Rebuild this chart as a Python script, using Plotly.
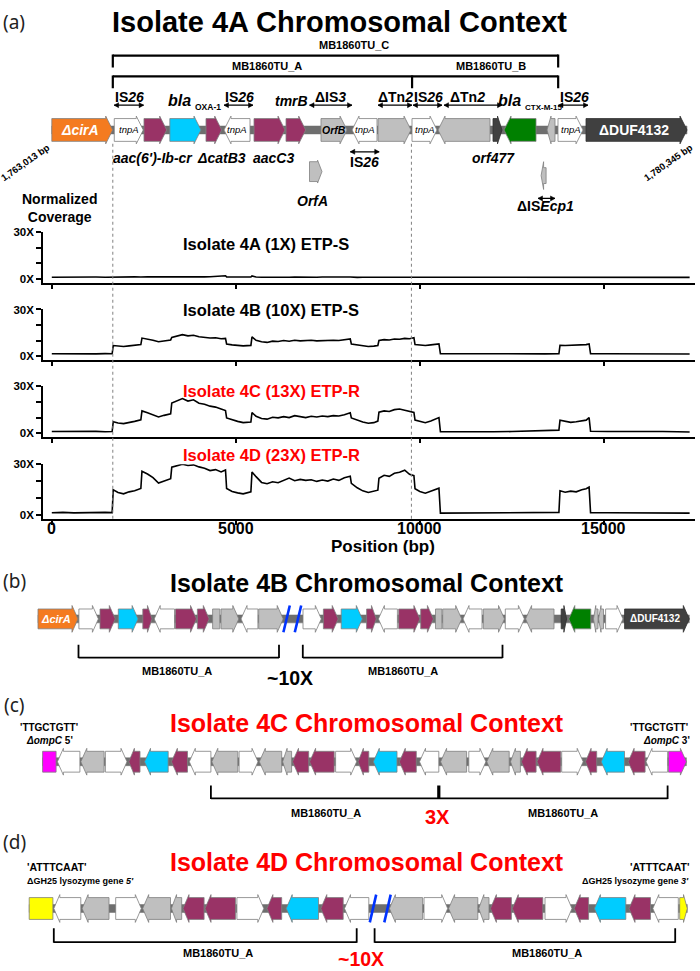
import plotly.graph_objects as go

W, H = 700, 971
FONT = "Liberation Sans"

# ---------------- coverage data (panel a) ----------------
pos_bp = [0, 300, 600, 900, 1200, 1450, 1640,
          1670, 1800, 1950, 2100, 2250, 2420,
          2450, 2600, 2750, 2900, 3050, 3230,
          3260, 3400, 3550, 3700, 3850, 4000, 4150, 4300, 4450, 4600, 4720,
          4750, 4900, 5050, 5200, 5410,
          5440, 5550, 5700, 5850, 6000, 6150, 6300, 6450, 6600, 6750, 6900, 7050, 7200, 7350, 7500, 7650, 7800, 7950, 8110,
          8140, 8300, 8450, 8600, 8750, 8860,
          8890, 9030, 9170, 9310, 9450, 9590, 9720, 9840,
          9870, 10000, 10150, 10300, 10420, 10520,
          10560, 11000, 11500, 12000, 12500, 13000, 13400, 13780,
          13810, 13950, 14100, 14250, 14400, 14520, 14600,
          14640, 15100, 15600, 16100, 16600, 17000, 17332]

cov_4A = [1.0, 1.1, 1.0, 1.2, 1.1, 1.0, 1.1,
          1.2, 1.1, 1.2, 1.1, 1.2, 1.1,
          1.2, 1.3, 1.2, 1.1, 1.2, 1.3,
          1.3, 1.2, 1.2, 1.1, 1.2, 1.3, 1.2, 1.3, 1.4, 1.6, 1.9,
          1.2, 1.1, 1.0, 1.0, 1.1,
          1.8, 1.1, 1.0, 0.9, 1.0, 1.1, 1.0, 1.0, 1.1, 1.0, 1.0, 1.1, 1.0, 1.1, 1.0, 1.1, 1.2, 1.1, 1.1,
          1.0, 0.9, 1.0, 1.0, 1.1, 1.0,
          1.1, 1.1, 1.0, 1.1, 1.2, 1.1, 1.2, 1.1,
          1.2, 1.1, 1.0, 1.0, 1.1, 1.0,
          1.1, 1.0, 1.0, 0.9, 1.0, 1.1, 1.0, 1.1,
          1.1, 1.0, 1.2, 1.3, 1.2, 1.2, 1.1,
          1.2, 1.0, 1.1, 1.0, 0.9, 1.0, 0.9]

cov_4B = [1.5, 1.4, 1.6, 1.5, 1.4, 1.6, 1.5,
          6.8, 6.4, 6.2, 6.6, 7.0, 7.4,
          11.6, 11.0, 10.2, 9.2, 9.8, 10.4,
          12.0, 12.8, 13.8, 13.0, 13.4, 12.4, 12.0, 11.6, 11.8, 11.2, 11.4,
          7.8, 7.2, 6.8, 6.6, 6.9,
          12.4, 10.2, 9.2, 8.8, 9.6, 9.4, 10.0, 9.6, 10.2, 9.8, 10.0, 10.2, 9.8, 10.0, 9.8, 10.2, 10.0, 10.4, 11.0,
          7.8, 7.2, 6.6, 6.2, 6.4, 6.8,
          10.0, 10.6, 10.4, 11.0, 10.8, 11.4, 11.2, 11.8,
          7.4, 7.0, 6.8, 7.2, 7.4, 7.8,
          1.6, 1.5, 1.4, 1.5, 1.6, 1.5, 1.4, 1.5,
          7.0, 6.8, 7.0, 7.2, 7.0, 7.4, 7.8,
          1.6, 1.5, 1.4, 1.5, 1.4, 1.5, 1.3]

cov_4C = [1.2, 1.3, 1.1, 1.2, 1.3, 1.1, 1.2,
          7.4, 6.6, 6.2, 6.8, 7.6, 8.6,
          14.2, 13.0, 11.8, 10.4, 11.4, 12.4,
          19.2, 20.6, 22.0, 20.4, 21.2, 19.0, 18.4, 17.2, 16.6, 15.4, 14.4,
          9.8, 8.6, 7.6, 6.8, 7.2,
          13.2, 10.8, 9.4, 9.0, 10.2, 9.8, 10.6, 10.0, 11.2, 10.4, 10.0, 10.8, 10.4, 11.0, 10.6, 11.2, 11.0, 11.8, 13.0,
          9.8, 8.4, 7.2, 6.4, 6.8, 7.8,
          13.4, 14.2, 13.8, 15.0, 15.4, 14.6, 14.0, 13.2,
          8.4, 7.6, 6.8, 7.8, 8.8, 10.0,
          1.1, 1.0, 0.9, 1.1, 1.2, 1.4, 1.7, 2.1,
          8.4, 7.6, 7.0, 7.4, 7.8, 8.4, 10.0,
          1.4, 1.2, 1.3, 1.1, 1.2, 1.1, 0.9]

cov_4D = [1.2, 1.4, 1.1, 1.3, 1.2, 1.4, 1.3,
          14.8, 13.2, 12.4, 13.6, 14.2, 15.6,
          25.8, 24.2, 22.0, 18.8, 20.2, 21.4,
          28.2, 29.0, 30.0, 29.2, 29.6, 28.4, 27.6, 26.2, 26.8, 25.4, 26.6,
          15.6, 13.8, 13.0, 12.4, 13.6,
          25.4, 22.6, 19.2, 18.4, 19.6, 19.0, 20.6, 21.8, 20.2, 21.0, 20.4, 20.8, 19.8, 20.6, 20.0, 21.2, 20.4, 22.0, 22.8,
          18.6, 16.0, 14.2, 13.2, 13.8, 14.6,
          21.6, 23.4, 22.8, 24.6, 25.2, 26.4, 24.0, 23.2,
          15.4, 13.8, 12.8, 14.2, 15.2, 15.8,
          1.0, 1.1, 0.9, 1.0, 1.1, 1.2, 1.3, 1.4,
          14.2, 13.4, 14.0, 13.6, 14.8, 15.4, 16.4,
          1.3, 1.2, 1.1, 1.3, 1.2, 1.1, 1.0]

cov_titles = ["Isolate 4A (1X) ETP-S", "Isolate 4B (10X) ETP-S",
              "Isolate 4C (13X) ETP-R", "Isolate 4D (23X) ETP-R"]
cov_title_colors = ["black", "black", "#FF0000", "#FF0000"]
x_tick_vals = [0, 5000, 10000, 15000]
x_tick_text = ["0", "5000", "10000", "15000"]
y_tick_vals = [0, 10, 20, 30]
y_tick_text = ["0X", "", "", "30X"]
dotted_bp = [1658, 9772]

# ---------------- panel a gene map (bp) ----------------
A_start = [0, 1698, 2505, 3207, 4190, 4679, 5495, 6364, 7315, 8158, 8864, 9788, 10495, 11989, 12288, 13457, 13755, 14516]
A_end = [1655, 2486, 3122, 4054, 4617, 5386, 6337, 6899, 8022, 8837, 9761, 10467, 11908, 12234, 13158, 13674, 14435, 17261]
A_strand = [1, 1, 1, 1, 1, -1, 1, 1, 1, -1, 1, 1, -1, 1, -1, -1, 1, 1]
A_kind = ["orange", "white", "purple", "cyan", "purple", "white", "purple", "purple", "gray",
          "white", "gray", "white", "gray", "dark", "green", "gray", "white", "dark"]
A_inner = ["<b><i>ΔcirA</i></b>", "<i>tnpA</i>", "", "", "", "<i>tnpA</i>", "", "", "<b><i>OrfB</i></b>",
           "<i>tnpA</i>", "", "<i>tnpA</i>", "", "", "", "", "<i>tnpA</i>", "<b>ΔDUF4132</b>"]
A_inner_color = ["white", "black", "", "", "", "black", "", "", "black",
                 "black", "", "black", "", "", "", "", "black", "white"]
A_inner_size = [14, 9.5, 0, 0, 0, 9.5, 0, 0, 10.5, 9.5, 0, 9.5, 0, 0, 0, 0, 9.5, 14]
A_sub_start = [7003, 13296]
A_sub_end = [7342, 13432]
A_sub_strand = [1, -1]
A_span_start = [1693, 4679, 7003, 8864, 9815, 10658, 13769]
A_span_end = [2496, 5467, 8158, 9788, 10603, 12234, 14571]
A_span_label = ["IS<i>26</i>", "IS<i>26</i>", "ΔIS<i>3</i>", "ΔTn<i>2</i>", "IS<i>26</i>", "ΔTn<i>2</i>", "IS<i>26</i>"]
A_brk_C = [1658, 13760]
A_brk_AB = [1658, 9790, 13760]

# ---------------- panel b (map units) ----------------
B_start = [38, 78.9, 100, 118.3, 142.8, 154.2, 175.4, 197.4, 212.6, 221, 241, 258.7,
           303, 323.4, 341.2, 366.6, 378.4, 398.7, 420.7, 435.5, 442.7, 463, 483.3,
           505.3, 525.6, 561.2, 568.8, 593.5, 598.5, 605.6, 624.6]
B_end = [78, 98.4, 115.3, 138.1, 152.1, 174.5, 196.5, 209.2, 219.8, 238.8, 257.9, 283.2,
         321.3, 338.2, 362.3, 376.3, 397.4, 419.9, 433.4, 441.9, 461.7, 482, 504.5,
         524.4, 554, 566.6, 590.8, 598, 603.5, 623, 689.3]
B_strand = [1, 1, 1, 1, 1, -1, 1, 1, 0, 1, -1, 1,
            1, 1, 1, 1, -1, 1, 1, 0, 1, -1, 1,
            1, -1, 1, -1, -1, -1, 1, 1]
B_kind = ["orange", "white", "purple", "cyan", "purple", "white", "purple", "purple", "gray", "gray", "white", "gray",
          "white", "purple", "cyan", "purple", "white", "purple", "purple", "gray", "gray", "white", "gray",
          "white", "gray", "dark", "green", "gray", "gray", "white", "dark"]
B_breaks = [286.6, 298.0]
B_brk_start = [78.5, 302.8]
B_brk_end = [279, 502.5]

# ---------------- panel c ----------------
C_start = [42.6, 57.4, 80.8, 105.4, 128.8, 144.5, 171.4, 189.3, 211.8, 239.1, 259.3, 282.6, 292.5,
           309.6, 335.6, 358.0, 373.3, 399.3, 419.5, 440.6, 468.8, 486.8, 510.5, 521.3, 537.0,
           561.7, 585.5, 601.2, 628.1, 646.0, 668.5]
C_end = [56.1, 79.9, 104.1, 127.0, 140.0, 168.2, 187.5, 210.9, 237.8, 258.0, 281.7, 291.6, 308.7,
         334.2, 356.7, 368.8, 397.0, 416.3, 438.8, 466.6, 485.9, 509.2, 520.4, 536.1, 560.8,
         583.2, 596.7, 624.5, 645.1, 667.6, 686.4]
C_strand = [0, -1, -1, 1, -1, -1, -1, -1, -1, 1, -1, -1, -1,
            -1, 1, -1, -1, -1, -1, -1, 1, -1, -1, -1, -1,
            1, -1, -1, -1, -1, 1]
C_kind = ["magenta", "white", "gray", "white", "purple", "cyan", "purple", "white", "gray", "white", "gray", "gray", "purple",
          "purple", "white", "purple", "cyan", "purple", "white", "gray", "white", "gray", "gray", "purple", "purple",
          "white", "purple", "cyan", "purple", "white", "magenta"]
C_brk_ticks = [210.9, 438.8, 667.6]

# ---------------- panel d ----------------
D_start = [29.2, 53.8, 82.1, 115.7, 142.7, 171.4, 183.0, 205.0, 236.9, 266.9, 286.2, 320.8, 344.5,
           389.4, 424.0, 448.6, 478.7, 490.4, 512.3, 545.0, 574.2, 594.4, 629.0, 652.8, 679.7]
D_end = [52.9, 80.8, 109.0, 141.3, 170.5, 181.7, 204.1, 235.5, 263.8, 281.7, 318.5, 343.2, 368.8,
         422.6, 447.7, 477.8, 489.0, 511.4, 542.8, 572.0, 588.6, 625.8, 650.5, 678.3, 687.3]
D_strand = [0, -1, -1, 1, -1, -1, -1, -1, 1, -1, -1, -1, -1,
            -1, 1, -1, -1, -1, -1, 1, -1, -1, -1, -1, 1]
D_kind = ["yellow", "white", "gray", "white", "gray", "gray", "purple", "purple", "white", "purple", "cyan", "purple", "white",
          "gray", "white", "gray", "gray", "purple", "purple", "white", "purple", "cyan", "purple", "white", "yellow"]
D_breaks = [373.0, 387.5]
D_brk_start = [53.8, 374.6]
D_brk_end = [356.7, 675.2]

COL = {"orange": "#F47B20", "white": "#FFFFFF", "purple": "#993366", "cyan": "#00CCFF",
       "gray": "#BFBFBF", "dark": "#404040", "green": "#008000", "magenta": "#FF00FF",
       "yellow": "#FFFF00"}
EDGE = "#7F7F7F"
BACKBONE = "#6E6E6E"

X_RANGE = [-239, 17478]
X_DOM = [43 / W, 695 / W]
BP_PER_PX = (X_RANGE[1] - X_RANGE[0]) / (695 - 43)


def fx(px):
    return px / W


def fy(py):
    return 1 - py / H


def arrow_xy(s, e, strand, yc, hb, hh, hl):
    h = min(hl, 0.5 * (e - s))
    if strand == 1:
        xs = [s, e - h, e - h, e, e - h, e - h, s, s]
    elif strand == -1:
        xs = [e, s + h, s + h, s, s + h, s + h, e, e]
    else:
        return [s, e, e, s, s], [yc - hb, yc - hb, yc + hb, yc + hb, yc - hb]
    ys = [yc - hb, yc - hb, yc - hh, yc, yc + hh, yc + hb, yc + hb, yc - hb]
    return xs, ys


fig = go.Figure()
lay = {}
shapes = []
ann = []


def text(t, px, py, size, color="black", xanchor="center", angle=0, family=FONT):
    ann.append(dict(text=t, x=fx(px), y=fy(py), xref="paper", yref="paper", showarrow=False,
                    xanchor=xanchor, yanchor="middle", textangle=angle,
                    font=dict(family=family, size=size, color=color)))


def track_axis(n, center, top, bottom, xrange, xdom):
    lay["xaxis%d" % n] = dict(domain=xdom, range=xrange, visible=False, anchor="y%d" % n)
    lay["yaxis%d" % n] = dict(domain=[fy(bottom), fy(top)],
                              range=[(center - bottom) / 10.0, (center - top) / 10.0],
                              visible=False, anchor="x%d" % n)


def draw_genes(n, starts, ends, strands, kinds, hb, hh, hl, yc=0.0):
    for s, e, st, k in zip(starts, ends, strands, kinds):
        xs, ys = arrow_xy(s, e, st, yc, hb, hh, hl)
        edge = "#303030" if k == "dark" else EDGE
        fig.add_trace(go.Scatter(x=xs, y=ys, mode="lines", fill="toself", fillcolor=COL[k],
                                 line=dict(color=edge, width=0.8), hoverinfo="skip",
                                 xaxis="x%d" % n, yaxis="y%d" % n))


def backbone(n, s, e, half=0.4):
    fig.add_trace(go.Scatter(x=[s, e, e, s, s], y=[-half, -half, half, half, -half], mode="lines",
                             fill="toself", fillcolor=BACKBONE, line=dict(color=BACKBONE, width=0.5),
                             hoverinfo="skip", xaxis="x%d" % n, yaxis="y%d" % n))


def breaks(n, xs_list, hh):
    for xb in xs_list:
        fig.add_trace(go.Scatter(x=[xb - 3.2, xb + 3.2], y=[-hh, hh], mode="lines",
                                 line=dict(color="#0033FF", width=2.6), hoverinfo="skip",
                                 xaxis="x%d" % n, yaxis="y%d" % n))


def hline(n, x0, x1, y, width=2.0):
    shapes.append(dict(type="line", xref="x%d" % n, yref="y%d" % n, x0=x0, x1=x1, y0=y, y1=y,
                       line=dict(color="black", width=width)))


def vline(n, x, y0, y1, width=2.0):
    shapes.append(dict(type="line", xref="x%d" % n, yref="y%d" % n, x0=x, x1=x, y0=y0, y1=y1,
                       line=dict(color="black", width=width)))


def dbl_arrow(n, s, e, y):
    hl = 4.5 * BP_PER_PX
    hw = 0.25
    shapes.append(dict(type="line", xref="x%d" % n, yref="y%d" % n, x0=s + 1, x1=e - 1, y0=y, y1=y,
                       line=dict(color="black", width=1.2)))
    for tip, back in ((s, s + hl), (e, e - hl)):
        shapes.append(dict(type="path", xref="x%d" % n, yref="y%d" % n,
                           path="M %f,%f L %f,%f L %f,%f Z" % (tip, y, back, y + hw, back, y - hw),
                           fillcolor="black", line=dict(color="black", width=0.5)))


# ---------------- coverage subplots ----------------
sub_top = [228, 306, 383, 462]
sub_zero = [275, 353, 431, 513]
sub_line = [279, 357, 435, 517]
sub_title_py = [240, 307, 388, 453]
cov_series = [cov_4A, cov_4B, cov_4C, cov_4D]

for k in range(4):
    sfx = "" if k == 0 else str(k + 1)
    ppu = (sub_zero[k] - sub_top[k]) / 30.0
    ymin = -(sub_line[k] - sub_zero[k]) / ppu
    fig.add_trace(go.Scatter(x=pos_bp, y=cov_series[k], mode="lines",
                             line=dict(color="black", width=1.6), hoverinfo="skip",
                             xaxis="x" + sfx, yaxis="y" + sfx))
    lay["xaxis" + sfx] = dict(domain=X_DOM, range=X_RANGE, anchor="y" + sfx, showline=True,
                              linecolor="black", linewidth=1.6, ticks="outside", ticklen=4,
                              tickwidth=1.5, tickcolor="black", tickvals=x_tick_vals,
                              showticklabels=False, showgrid=False, zeroline=False)
    lay["yaxis" + sfx] = dict(domain=[fy(sub_line[k]), fy(sub_top[k])], range=[ymin, 30],
                              anchor="x" + sfx, showline=True, linecolor="black", linewidth=1.6,
                              ticks="outside", ticklen=5, tickwidth=1.5, tickcolor="black",
                              tickvals=y_tick_vals,
                              ticktext=["<b>%s</b>" % t if t else "" for t in y_tick_text],
                              showgrid=False, zeroline=False,
                              tickfont=dict(family=FONT, size=11.5, color="black"))
    text("<b>%s</b>" % cov_titles[k], 181, sub_title_py[k], 16.5, cov_title_colors[k], xanchor="left")

for v, t in zip(x_tick_vals, x_tick_text):
    ann.append(dict(text="<b>%s</b>" % t, x=v, y=fy(527), xref="x4", yref="paper", showarrow=False,
                    xanchor="center", yanchor="middle", font=dict(family=FONT, size=16, color="black")))

for xb in dotted_bp:
    shapes.append(dict(type="line", xref="x", yref="paper", x0=xb, x1=xb, y0=fy(517), y1=fy(138),
                       line=dict(color="#808080", width=1, dash="dot")))

text("<b>Normalized<br>Coverage</b>", 59, 204, 14)
text("<b>Position (bp)</b>", 383, 545, 17)

# ---------------- panel a gene map ----------------
A_C = 125
track_axis(5, A_C, 30, 210, X_RANGE, X_DOM)
backbone(5, A_start[0], A_end[-1])
draw_genes(5, A_start, A_end, A_strand, A_kind, 1.15, 1.4, 190)
for i in range(2):
    xs, ys = arrow_xy(A_sub_start[i], A_sub_end[i], A_sub_strand[i],
                      -4.2 if i == 0 else -4.6, 1.0 if i == 0 else 0.8, 1.15 if i == 0 else 1.4,
                      120 if i == 0 else 90)
    fig.add_trace(go.Scatter(x=xs, y=ys, mode="lines", fill="toself", fillcolor=COL["gray"],
                             line=dict(color=EDGE, width=0.8), hoverinfo="skip",
                             xaxis="x5", yaxis="y5"))
for s, e, t, c, sz in zip(A_start, A_end, A_inner, A_inner_color, A_inner_size):
    if t:
        ann.append(dict(text=t, x=(s + e) / 2 - (60 if sz > 12 else 0), y=0, xref="x5", yref="y5",
                        showarrow=False, font=dict(family=FONT, size=sz, color=c)))

hline(5, A_brk_C[0], A_brk_C[1], 7.5, 2.2)
for xb in A_brk_C:
    vline(5, xb, 7.6, 6.3, 2.2)
hline(5, A_brk_AB[0], A_brk_AB[-1], 5.4, 2.2)
for xb in A_brk_AB:
    vline(5, xb, 5.5, 4.2, 2.2)
text("<b>MB1860TU_C</b>", 354, 39, 11)
text("<b>MB1860TU_A</b>", 267, 60, 11)
text("<b>MB1860TU_B</b>", 491, 60, 11)

span_label_px = [129, 239, 330, 395, 428, 467, 574]
for s, e, lab, lpx in zip(A_span_start, A_span_end, A_span_label, span_label_px):
    dbl_arrow(5, s, e, 2.5)
    text("<b>%s</b>" % lab, lpx, 92, 14)
text("<b><i>bla</i></b>", 193, 95, 16, xanchor="right")
text("<b>OXA-1</b>", 193, 102, 8.5, xanchor="left")
text("<b><i>tmrB</i></b>", 291, 96, 14)
text("<b><i>bla</i></b>", 523, 95, 16, xanchor="right")
text("<b>CTX-M-15</b>", 523, 102, 8, xanchor="left")

text("<b><i>aac(6')-Ib-cr</i></b>", 153, 153, 14)
text("<b><i>ΔcatB3</i></b>", 221, 153, 14)
text("<b><i>aacC3</i></b>", 273, 153, 14)
dbl_arrow(5, 8110, 8897, -2.2)
text("<b>IS<i>26</i></b>", 364, 157, 14)
text("<b><i>orf477</i></b>", 493, 153, 14)
text("<b><i>OrfA</i></b>", 312, 197, 14)
dbl_arrow(5, 13212, 13674, -6.9)
text("<b>ΔIS<i>Ecp1</i></b>", 545, 202, 14)
text("<b>1,763,013 bp</b>", 25, 158, 9.5, angle=-35)
text("<b>1,780,345 bp</b>", 668, 158, 9.5, angle=-35)

# ---------------- panel b ----------------
B_C = 618
track_axis(6, B_C, 598, 665, [0, W], [0, 1])
backbone(6, B_start[0], B_end[-1])
draw_genes(6, B_start, B_end, B_strand, B_kind, 1.0, 1.35, 6)
breaks(6, B_breaks, 1.35)
ann.append(dict(text="<b><i>ΔcirA</i></b>", x=(B_start[0] + B_end[0]) / 2 - 2, y=0, xref="x6", yref="y6",
                showarrow=False, font=dict(family=FONT, size=11, color="white")))
ann.append(dict(text="<b>ΔDUF4132</b>", x=(B_start[-1] + B_end[-1]) / 2 - 2, y=0, xref="x6", yref="y6",
                showarrow=False, font=dict(family=FONT, size=10, color="white")))
for s, e in zip(B_brk_start, B_brk_end):
    hline(6, s, e, -3.9, 1.8)
    vline(6, s, -3.95, -2.6, 1.8)
    vline(6, e, -3.95, -2.6, 1.8)
text("<b>MB1860TU_A</b>", 177, 671, 11)
text("<b>MB1860TU_A</b>", 403, 671, 11)
text("<b>~10X</b>", 290, 678, 19.5)

# ---------------- panel c ----------------
C_C = 762
track_axis(7, C_C, 745, 805, [0, W], [0, 1])
backbone(7, C_start[0], C_end[-1])
draw_genes(7, C_start, C_end, C_strand, C_kind, 1.05, 1.35, 6)
hline(7, C_brk_ticks[0], C_brk_ticks[-1], -3.7, 1.8)
for i, xb in enumerate(C_brk_ticks):
    vline(7, xb, -3.75, -2.4, 3.2 if i == 1 else 1.8)
text("<b>MB1860TU_A</b>", 326, 814, 11)
text("<b>MB1860TU_A</b>", 563, 814, 11)
text("<b>3X</b>", 437, 818, 20, "#FF0000")
text("<b>'TTGCTGTT'</b>", 49, 727, 10)
text("<b><i>ΔompC</i> 5'</b>", 49, 741, 10)
text("<b>'TTGCTGTT'</b>", 659, 727, 10)
text("<b><i>ΔompC</i> 3'</b>", 666, 741, 10)

# ---------------- panel d ----------------
D_C = 910
track_axis(8, D_C, 892, 950, [0, W], [0, 1])
backbone(8, D_start[0], D_end[-1])
draw_genes(8, D_start, D_end, D_strand, D_kind, 1.1, 1.4, 6)
breaks(8, D_breaks, 1.4)
for s, e in zip(D_brk_start, D_brk_end):
    hline(8, s, e, -3.4, 1.8)
    vline(8, s, -3.45, -2.0, 1.8)
    vline(8, e, -3.45, -2.0, 1.8)
text("<b>MB1860TU_A</b>", 218, 955, 11)
text("<b>MB1860TU_A</b>", 547, 955, 11)
text("<b>~10X</b>", 361, 961, 19.5, "#FF0000")
text("<b>'ATTTCAAT'</b>", 56, 868, 10.5)
text("<b>ΔGH25 lysozyme gene <i>5'</i></b>", 80, 882, 9)
text("<b>'ATTTCAAT'</b>", 659, 868, 10.5)
text("<b>ΔGH25 lysozyme gene <i>3'</i></b>", 635, 882, 9)

# ---------------- titles & panel letters ----------------
text("<b>Isolate 4A Chromosomal Context</b>", 339, 16, 29)
text("<b>Isolate 4B Chromosomal Context</b>", 367, 582, 25)
text("<b>Isolate 4C Chromosomal Context</b>", 367, 723, 25, "#FF0000")
text("<b>Isolate 4D Chromosomal Context</b>", 367, 863, 25, "#FF0000")
for lab, py in zip(["(a)", "(b)", "(c)", "(d)"], [16, 580, 705, 843]):
    text(lab, 14, py, 19, "#222222", family="Noto Sans")

fig.update_layout(width=W, height=H, margin=dict(l=0, r=0, t=0, b=0), showlegend=False,
                  paper_bgcolor="white", plot_bgcolor="rgba(0,0,0,0)",
                  shapes=shapes, annotations=ann, **lay)
fig.write_html("out.html", config={"displayModeBar": False},
               post_script="document.body.style.margin='0px';document.body.style.padding='0px';"
                           "document.body.style.overflow='hidden';"
                           "document.documentElement.style.overflow='hidden';")
